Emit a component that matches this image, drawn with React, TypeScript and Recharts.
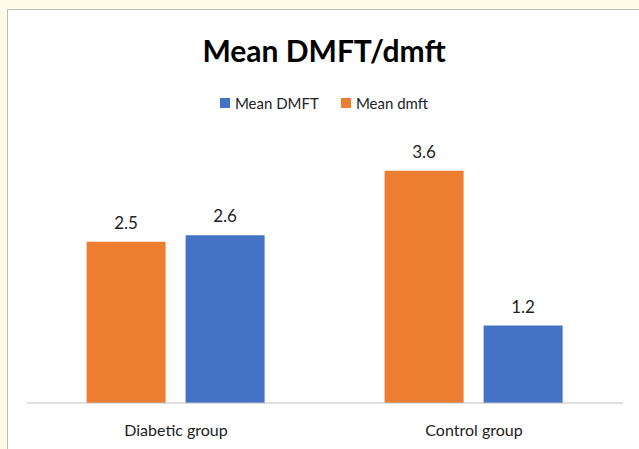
import React from "react";
import { BarChart, Bar, XAxis, YAxis, LabelList } from "recharts";

const categories = ["Diabetic group", "Control group"];
const meanDmft = [2.5, 3.6];
const meanDMFT = [2.6, 1.2];
const seriesNames = { DMFT: "Mean DMFT", dmft: "Mean dmft" };
const colors = { DMFT: "#4472C4", dmft: "#ED7D31" };

const data = categories.map((c, i) => ({ name: c, dmft: meanDmft[i], DMFT: meanDMFT[i] }));

const FONT = "Lato, 'Open Sans', sans-serif";

export default function App() {
  return (
    <div style={{ position: "absolute", left: 0, top: 0, width: 639, height: 449, background: "#FFFBE7", overflow: "hidden", fontFamily: FONT }}>
      <div style={{ position: "absolute", left: 7, top: 9, width: 632, height: 440, background: "#fff", borderTop: "1px solid #BDBDBD", borderLeft: "1px solid #BDBDBD", boxSizing: "border-box" }}>
        <div style={{ position: "absolute", left: 0, top: 22, width: 632, textAlign: "center", fontSize: 30, fontWeight: 700, color: "#000" }}>
          Mean DMFT/dmft
        </div>
        <div style={{ position: "absolute", left: 0, top: 84, width: 632, display: "flex", justifyContent: "center", gap: 22, fontSize: 15, color: "#222" }}>
          {(["DMFT", "dmft"] as const).map((k) => (
            <div key={k} style={{ display: "flex", alignItems: "center" }}>
              <span style={{ display: "inline-block", width: 10, height: 10, background: colors[k], marginRight: 5 }} />
              <span>{seriesNames[k]}</span>
            </div>
          ))}
        </div>
        <div style={{ position: "absolute", left: 0, top: 0 }}>
          <BarChart width={631} height={439} data={data} margin={{ top: 135, right: 16, bottom: 16, left: 19 }} barGap={20} barCategoryGap="20%">
            <YAxis hide domain={[0, 4]} />
            <XAxis dataKey="name" axisLine={{ stroke: "#BFBFBF", strokeWidth: 1 }} tickLine={false} tickMargin={16} height={30} tick={{ fill: "#222", fontSize: 16, fontFamily: FONT }} />
            <Bar dataKey="dmft" name={seriesNames.dmft} fill={colors.dmft} isAnimationActive={false}>
              <LabelList dataKey="dmft" position="top" offset={13} style={{ fill: "#222", fontSize: 17, fontFamily: FONT }} />
            </Bar>
            <Bar dataKey="DMFT" name={seriesNames.DMFT} fill={colors.DMFT} isAnimationActive={false}>
              <LabelList dataKey="DMFT" position="top" offset={13} style={{ fill: "#222", fontSize: 17, fontFamily: FONT }} />
            </Bar>
          </BarChart>
        </div>
      </div>
    </div>
  );
}
